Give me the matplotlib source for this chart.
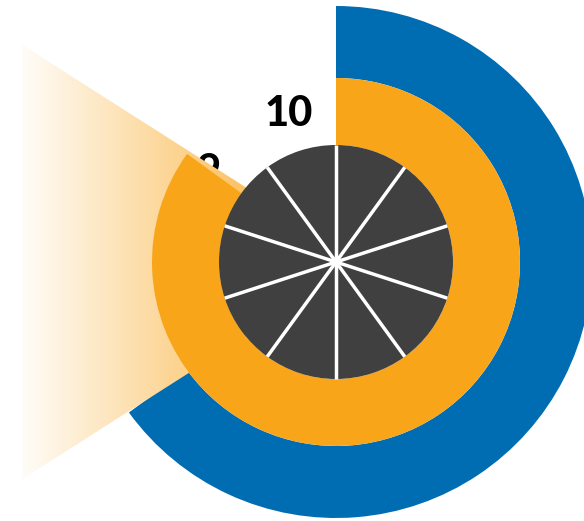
import numpy as np
import matplotlib
matplotlib.use('Agg')
import matplotlib.pyplot as plt
from matplotlib.patches import Polygon

# data
slice_labels = ['1', '2', '3', '4', '5', '6', '7', '8', '9', '10']
scale_max = 10
blue_value = 6.5    # outer ring
orange_value = 8.5  # middle ring

blue = '#006DB3'
orange = '#F9A51A'
grey = '#404040'

# radii in pixel-ish units
r_pie = 117
r_mid = 184
r_out = 256

fig = plt.figure(figsize=(5.84, 5.21), dpi=100)
ax = fig.add_axes([0, 0, 1, 1])

# gradient "beam" pointing left, opaque white -> orange
apex_x, left_x, half = 27, -314, np.deg2rad(32.5)
spread = (apex_x - left_x) * np.tan(half)
beam = Polygon([(apex_x, 0), (left_x, spread), (left_x, -spread)],
               closed=True, facecolor='none', edgecolor='none')
ax.add_patch(beam)
xs = np.linspace(left_x, apex_x, 400)
alpha = np.clip((xs + 324) * 0.0029, 0, 1)[None, :, None]
rgb = np.array(matplotlib.colors.to_rgb(orange))
grad = (1 - alpha) * 1.0 + alpha * rgb
im = ax.imshow(grad, extent=(left_x, apex_x, -spread, spread), aspect='auto', zorder=2.5,
               interpolation='bilinear')
im.set_clip_path(beam)

# slice labels (sit under the rings)
n = len(slice_labels)
for i, lab in enumerate(slice_labels):
    ang = np.deg2rad(90 - (i + 0.5) * 360 / n)
    ax.text(160 * np.cos(ang) + 2, 160 * np.sin(ang) - 4, lab, ha='center', va='center',
            fontsize=30, fontweight='black', family='Lato', color='black', zorder=0.5)

# outer (blue) ring
ax.pie([blue_value, scale_max - blue_value], radius=r_out, startangle=90, counterclock=False,
       colors=[blue, 'none'], wedgeprops=dict(width=r_out - r_mid, edgecolor='none', zorder=2))

# middle (orange) ring
ax.pie([orange_value, scale_max - orange_value], radius=r_mid, startangle=90, counterclock=False,
       colors=[orange, 'none'], wedgeprops=dict(width=r_mid - r_pie, edgecolor='none', zorder=3))

# inner grey pie with 10 slices
ax.pie([1] * n, radius=r_pie, startangle=90, counterclock=False, colors=[grey] * n,
       wedgeprops=dict(edgecolor='none', zorder=4))
for i in range(n):
    ang = np.deg2rad(90 - i * 360 / n)
    ax.plot([0, r_pie * np.cos(ang)], [0, r_pie * np.sin(ang)], color='white', lw=2.5,
            solid_capstyle='butt', zorder=5)

ax.set_xlim(-336, 248)
ax.set_ylim(-259, 262)
ax.set_aspect('auto')
ax.axis('off')

fig.savefig('out.png', dpi=100)
